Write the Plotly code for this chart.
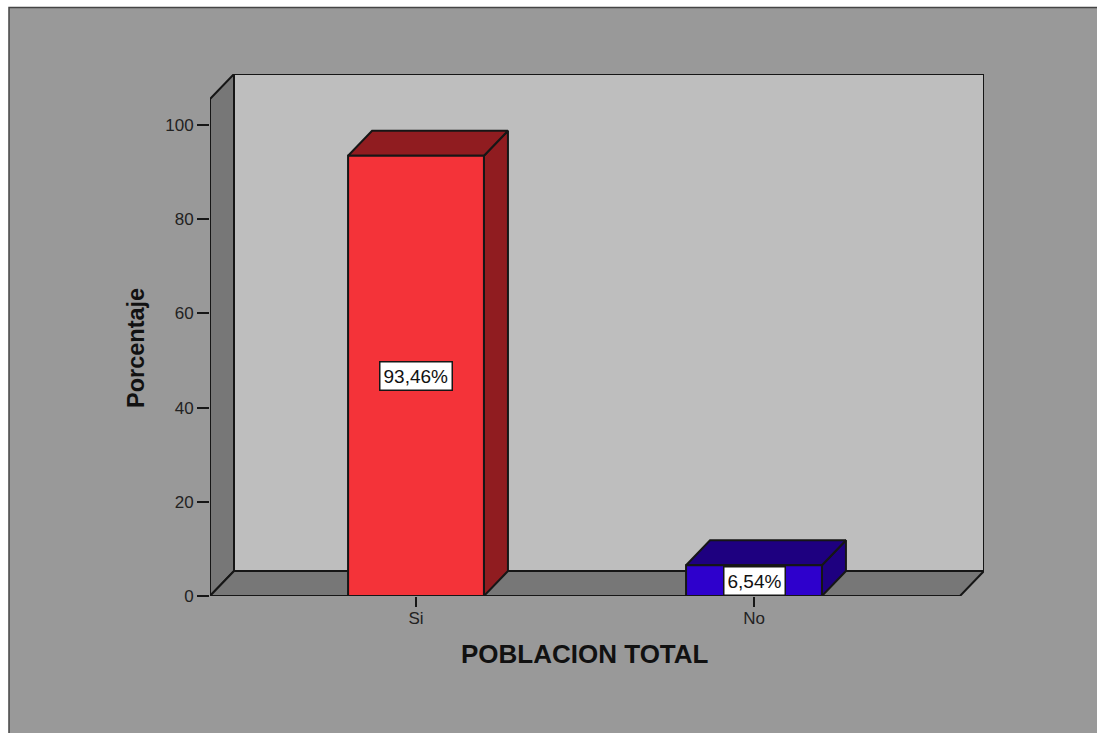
import plotly.graph_objects as go

# --- data ---
categories = ["Si", "No"]
values = [93.46, 6.54]
labels = ["93,46%", "6,54%"]
y_ticks = [0, 20, 40, 60, 80, 100]
front_colors = ["#F43339", "#2E00CC"]
top_colors = ["#901C20", "#1E0080"]

# --- geometry in axis units ---
positions = list(range(len(categories)))
half_w = 0.201
dx = 24 / 338
dy = 25 / 4.71
x_min, x_max = -0.6095, 1.6805
y_max = 110.83
wall_top = y_max - dy
floor_right = x_max - dx
EDGE = "#161616"


def poly(xs, ys, fill, width=2):
    return go.Scatter(
        x=xs + xs[:1], y=ys + ys[:1], mode="lines", fill="toself",
        fillcolor=fill, line=dict(color=EDGE, width=width),
        hoverinfo="skip", showlegend=False, cliponaxis=False,
    )


fig = go.Figure()
# back wall
fig.add_trace(poly([x_min + dx, x_max, x_max, x_min + dx], [dy, dy, y_max, y_max], "#BEBEBE"))
# left wall
fig.add_trace(poly([x_min, x_min + dx, x_min + dx, x_min], [0, dy, y_max, wall_top], "#777777"))
# floor
fig.add_trace(poly([x_min, floor_right, x_max, x_min + dx], [0, 0, dy, dy], "#777777"))

for pos, val, fc, tc in zip(positions, values, front_colors, top_colors):
    l, r = pos - half_w, pos + half_w
    fig.add_trace(poly([r, r + dx, r + dx, r], [0, dy, val + dy, val], tc))
    fig.add_trace(poly([l, r, r + dx, l + dx], [val, val, val + dy, val + dy], tc))
    fig.add_trace(poly([l, r, r, l], [0, 0, val, val], fc))

for pos, val, text in zip(positions, values, labels):
    fig.add_annotation(
        x=pos, y=val / 2, text=text, showarrow=False,
        font=dict(family="Liberation Sans", size=19, color="#111111"),
        bgcolor="white", bordercolor=EDGE, borderwidth=1.5, borderpad=3,
    )

W, H = 1097, 733
ML, MR, MT, MB = 210, 113, 74, 137
pw, ph = W - ML - MR, H - MT - MB


def px(v):
    return (v - ML) / pw


def py(v):
    return (H - MB - v) / ph


fig.add_shape(
    type="rect", xref="paper", yref="paper", layer="below",
    x0=px(9), x1=px(1110), y0=py(750), y1=py(7.5),
    fillcolor="#999999", line=dict(color="#454545", width=1.5),
)
fig.add_annotation(
    xref="paper", yref="paper", x=px(136), y=py(348), text="Porcentaje",
    textangle=-90, showarrow=False, xanchor="center", yanchor="middle",
    font=dict(family="Liberation Sans", size=23.5, color="#111111", weight="bold"),
)
fig.add_annotation(
    xref="paper", yref="paper", x=px(584.5), y=py(654), text="POBLACION TOTAL",
    showarrow=False, xanchor="center", yanchor="middle",
    font=dict(family="Liberation Sans", size=26, color="#111111", weight="bold"),
)

fig.update_layout(
    width=W, height=H, autosize=False,
    margin=dict(l=ML, r=MR, t=MT, b=MB, pad=0),
    paper_bgcolor="white", plot_bgcolor="rgba(0,0,0,0)",
    showlegend=False,
    font=dict(family="Liberation Sans", size=17, color="#222222"),
    xaxis=dict(
        range=[x_min, x_max], tickmode="array", tickvals=positions, ticktext=categories,
        showgrid=False, zeroline=False, showline=False,
        ticks="outside", ticklen=10, tickwidth=1.5, tickcolor=EDGE,
        tickfont=dict(size=17), ticklabelstandoff=-3,
    ),
    yaxis=dict(
        range=[0, y_max], tickmode="array", tickvals=y_ticks,
        showgrid=False, zeroline=False, showline=False,
        ticks="outside", ticklen=12, tickwidth=1.5, tickcolor=EDGE,
        tickfont=dict(size=17),
    ),
)

fig.write_html(
    "out.html",
    config={"displayModeBar": False},
    post_script="document.body.style.margin='0';",
)
